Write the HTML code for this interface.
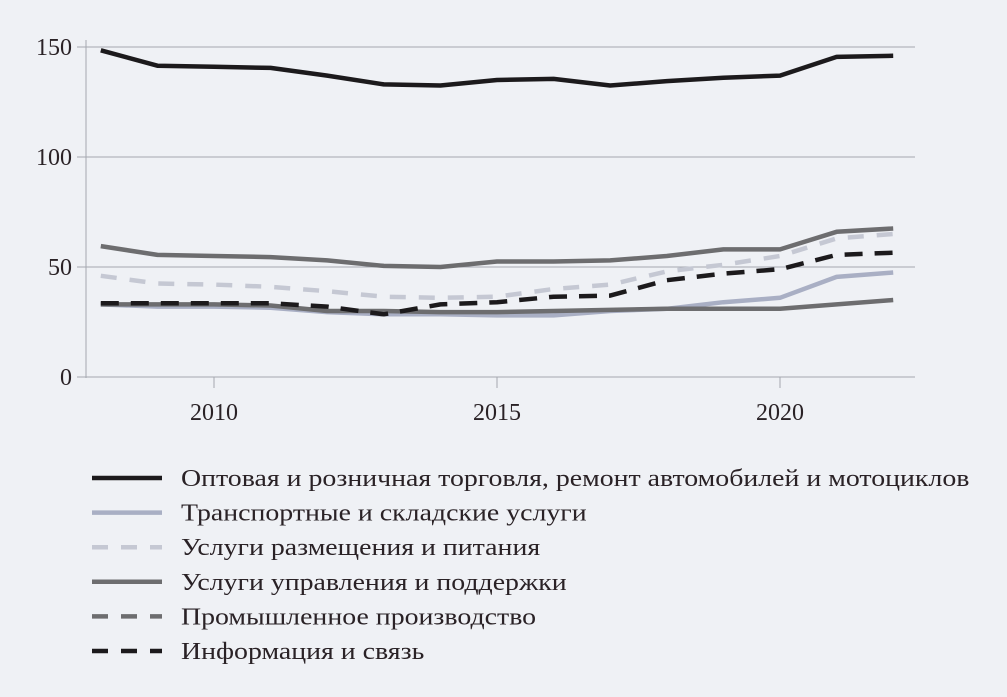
<!DOCTYPE html>
<html><head><meta charset="utf-8"><style>
body{margin:0;background:#eff1f5;}
svg{display:block;font-family:"Liberation Serif",serif;}
</style></head><body>
<svg id="chart" width="1007" height="697" viewBox="0 0 1007 697">
<rect x="0" y="0" width="1007" height="697" fill="#eff1f5"/>
<g id="grid"></g><g id="series"></g><g id="legend"></g>
</svg>
<script>
const years=[2008,2009,2010,2011,2012,2013,2014,2015,2016,2017,2018,2019,2020,2021,2022];
const yTicks=[0,50,100,150];
const xTicks=[2010,2015,2020];
const trade=[148.5,141.5,141,140.5,137,133,132.5,135,135.5,132.5,134.5,136,137,145.5,146];
const transport=[33,32,32,31.5,29.5,28.5,28.5,28,28,30,31,34,36,45.5,47.5];
const accommodation=[46,42.5,42,41,39,36.5,36,36.5,40,42,48,51,55,63,65];
const admin=[33,33,33,32.5,30,30,29.5,29.5,30,30.5,31,31,31,33,35];
const manufacturing=[59.5,55.5,55,54.5,53,50.5,50,52.5,52.5,53,55,58,58,66,67.5];
const ict=[33.5,33.5,33.5,33.5,32,28.5,33,34,36.5,37,44,47,49,55.5,56.5];
const labels=["Оптовая и розничная торговля, ремонт автомобилей и мотоциклов","Транспортные и складские услуги","Услуги размещения и питания","Услуги управления и поддержки","Промышленное производство","Информация и связь"];
const NS="http://www.w3.org/2000/svg";
const X=y=>214+(y-2010)*56.6;
const Y=v=>377-v*2.2;
function mk(t,a,p){const e=document.createElementNS(NS,t);for(const k in a)e.setAttribute(k,a[k]);p.appendChild(e);return e;}
function widen(t,f){const w=t.getComputedTextLength();t.setAttribute('textLength',w*f);t.setAttribute('lengthAdjust','spacingAndGlyphs');}
const grid=document.getElementById('grid');
yTicks.forEach(v=>{
  const l=mk('line',{x1:77,x2:915,y1:Y(v),y2:Y(v),stroke:'#a4a7b0','stroke-width':1},grid);
  
  
  const t=mk('text',{x:72,y:Y(v)+8,'text-anchor':'end','font-size':24,fill:'#2a2226'},grid);
  t.textContent=v;
  
  
});
const ax=mk('line',{x1:86,x2:86,y1:40,y2:378,stroke:'#a4a7b0','stroke-width':1},grid);


xTicks.forEach(y=>{
  const l=mk('line',{x1:X(y),x2:X(y),y1:377,y2:388,stroke:'#a4a7b0','stroke-width':1},grid);
  
  
  const t=mk('text',{x:X(y),y:420,'text-anchor':'middle','font-size':24,fill:'#2a2226'},grid);
  t.textContent=y;
  
  
});
const styles=[
 {d:trade,c:'#1c1a1c',dash:null,n:'trade'},
 {d:transport,c:'#a9afc4',dash:null,n:'transport'},
 {d:accommodation,c:'#c5c8d3',dash:'16,13',n:'accommodation'},
 {d:admin,c:'#6d6d6f',dash:null,n:'admin-support'},
 {d:manufacturing,c:'#6d6d6f',dash:null,n:'manufacturing'},
 {d:ict,c:'#1c1a1c',dash:'18,12',n:'ict'}];
const legDash=[null,null,'16,13',null,'16,13','16,13'];
const sg=document.getElementById('series');
styles.forEach(s=>{
  const pts=s.d.map((v,i)=>X(years[i])+','+Y(v)).join(' ');
  const a={points:pts,fill:'none',stroke:s.c,'stroke-width':4.5,'stroke-linejoin':'round'};
  if(s.dash)a['stroke-dasharray']=s.dash;
  const p=mk('polyline',a,sg);
  
  
});
const lg=document.getElementById('legend');
labels.forEach((lab,i)=>{
  const y=478+i*34.6;
  const a={x1:92,x2:162,y1:y,y2:y,stroke:styles[i].c,'stroke-width':4.5};
  if(legDash[i])a['stroke-dasharray']=legDash[i];
  const l=mk('line',a,lg);
  
  
  const t=mk('text',{x:181,y:y+8,'font-size':24,fill:'#2a2226'},lg);
  t.textContent=lab;
  
  
  widen(t,1.16);
});
</script>
</body></html>
